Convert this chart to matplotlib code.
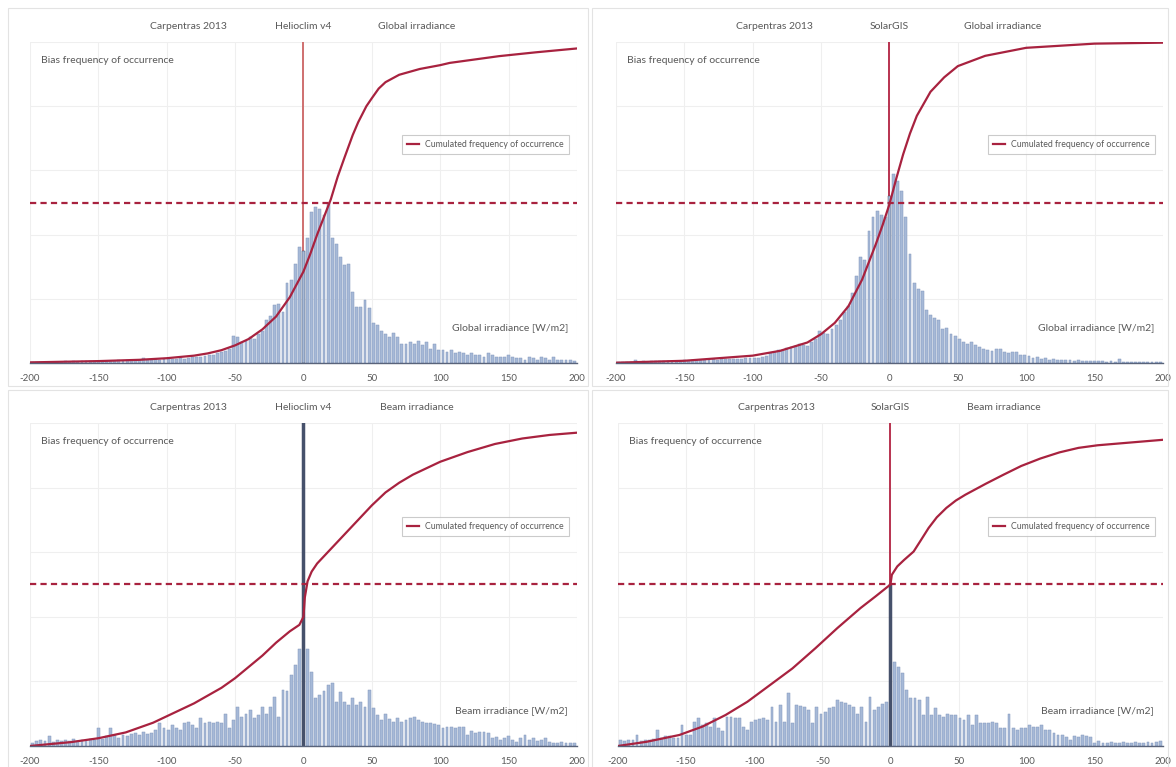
import numpy as np
import matplotlib
matplotlib.use("Agg")
import matplotlib.pyplot as plt
from matplotlib.patches import Rectangle

plt.rcParams['font.family'] = ['Lato', 'DejaVu Sans']

# bias bins (W/m2), 3 W/m2 wide
bin_centers = list(range(-198, 199, 3))
x_ticks = [-200, -150, -100, -50, 0, 50, 100, 150, 200]

# bar heights, in % of the plot height
hc_global = [0.3, 0.3, 0.4, 0.3, 0.4, 0.3, 0.4, 0.4, 0.5, 0.4, 0.5, 0.4, 0.5, 0.6, 0.5, 0.6, 0.6, 0.5,
             0.7, 0.6, 0.7, 0.8, 0.7, 0.8, 0.9, 0.8, 1.0,
             1.6, 0.9, 1.0, 1.1, 1.0, 1.2, 1.3, 1.2, 1.4, 1.5, 1.4, 1.6, 1.8, 1.9, 2.0, 2.2, 2.4, 2.6,
             3.0, 3.3, 3.8, 4.3,
             8.5, 8.0, 6.5, 7.0, 8.0, 7.5, 9.0, 10.0, 13.5, 14.5, 18.0, 18.5, 16.0, 25.0, 26.0, 31.0,
             36.0, 35.0, 39.0, 47.0, 48.5, 48.0, 46.0, 50.0, 39.0, 37.0, 33.0, 30.5, 31.0, 22.0, 17.5,
             17.5, 19.5, 17.0, 12.5, 12.0, 10.0, 9.0, 8.0, 9.5, 8.0, 6.0, 6.0, 6.5, 6.0, 7.0, 5.5, 6.5,
             4.5, 6.0, 4.0,
             4.0, 3.5, 4.0, 3.0, 3.5, 3.0, 2.5, 3.0, 2.5, 2.5, 2.0, 3.0, 2.5, 2.0, 2.0, 2.0, 2.5, 2.0,
             1.5, 1.5, 1.0, 2.0, 1.5, 1.0, 2.0, 1.5, 1.0, 2.0, 1.0, 1.0, 1.0, 0.8, 0.5]

sg_global = [0.3, 0.4, 0.3, 0.4, 0.8, 0.4, 0.5, 0.4, 0.5, 0.6, 0.5, 0.6, 0.5, 0.7, 0.6, 0.7, 0.9, 0.7,
             0.8, 1.0, 0.8, 0.9, 1.0, 1.3, 1.0, 1.1, 1.2, 1.1, 1.3, 1.4, 1.3, 1.5, 1.6,
             1.7, 1.5, 2.0, 2.3, 3.0, 3.3, 4.0, 4.2, 4.8, 5.0, 5.3, 5.8, 5.5, 5.3, 6.5, 7.4, 10.0, 9.5,
             9.0, 10.5, 12.0, 13.5, 16.0, 17.7, 21.8, 27.0, 33.0, 32.0, 41.0, 45.4, 47.4, 46.0, 45.4,
             52.0, 59.0, 56.7, 53.6, 45.4, 34.0, 25.0, 23.0, 22.5, 16.6, 15.0, 14.0, 13.5, 10.5, 11.0,
             9.0, 8.4, 7.4, 6.5, 5.9, 6.4, 5.5, 5.0, 4.3, 4.0, 3.8, 4.3, 4.3, 3.3, 3.0, 3.5, 3.3, 2.5, 2.5,
             2.3, 1.5, 1.8, 1.2, 1.5, 1.0, 1.2, 0.9, 1.0, 0.8, 0.9, 0.7, 0.8, 0.6, 0.7, 0.6, 0.5, 0.6,
             0.5, 0.4, 0.5, 0.4, 1.4, 0.4, 0.3, 0.4, 0.3, 0.4, 0.3, 0.3, 0.4, 0.3, 0.3]

hc_beam = [0.8, 1.5, 1.8, 1.5, 3.0, 1.2, 1.8, 1.5, 2.0, 1.6, 2.2, 1.5, 2.0, 1.8, 2.2, 2.0, 5.5,
           2.2, 3.0, 5.5, 3.5, 2.4, 3.5, 3.0, 3.8, 4.0, 3.5,
           4.4, 3.8, 4.0, 5.0, 7.0, 5.5, 5.0, 6.5, 5.5, 4.8,
           7.0, 7.5, 6.5, 5.5, 8.6, 7.0, 7.5, 7.0, 7.5, 7.0,
           10.0, 5.5, 8.0, 12.2, 9.0, 10.0, 11.0, 8.6, 9.5, 12.2,
           10.0, 12.2, 15.3, 9.0, 17.4, 17.0, 22.0, 25.0, 30.0,
           130.0,
           30.0, 23.0, 14.8, 15.8, 17.0, 19.0, 19.4, 13.7, 16.8, 13.7,
           12.7, 14.8, 12.7, 13.5, 12.0, 17.4, 11.7, 9.6, 8.0, 10.0,
           8.5, 7.5, 8.6, 7.5, 8.0, 8.6, 9.0, 8.0, 7.5, 7.0,
           7.0, 6.8, 6.5, 5.5, 6.0, 5.8, 5.5, 6.0, 6.0, 3.4,
           4.5, 4.0, 4.4, 4.2, 4.0, 2.4, 2.8, 1.9, 2.5, 3.0,
           2.0, 1.3, 2.5, 3.4, 2.0, 2.4, 1.5, 1.9, 2.5, 1.2,
           0.8, 1.0, 1.2, 0.8, 1.0, 0.8]

sg_beam = [1.9, 1.5, 2.0, 1.8, 3.4, 1.5, 1.8, 2.0, 2.2, 5.0,
           2.5, 3.0, 3.2, 2.4, 2.5, 6.5, 3.5, 3.5, 7.5, 8.6,
           6.5, 7.0, 6.0, 8.6, 5.5, 4.5, 9.0, 9.0, 8.6, 8.6,
           6.0, 5.0, 7.5, 8.0, 8.2, 8.6, 8.0, 12.2, 7.5, 12.7,
           7.5, 16.3, 7.0, 12.7, 12.5, 12.2, 11.2, 7.0, 12.2, 10.0,
           10.5, 11.7, 12.0, 14.3, 13.5, 13.2, 12.7, 12.2, 10.0, 12.2,
           7.5, 15.3, 11.0, 12.0, 13.0, 13.7,
           50.0,
           26.0, 24.6, 22.5, 17.4, 15.0, 14.8, 14.3, 9.6, 15.3, 9.6,
           11.7, 9.6, 9.0, 10.0, 9.6, 9.6, 8.6, 8.0, 9.6, 6.5,
           9.6, 7.0, 7.0, 7.0, 7.5, 7.0, 5.5, 5.5, 10.0, 5.5,
           5.0, 5.5, 5.5, 6.5, 6.0, 5.8, 6.5, 5.0, 5.0, 4.0,
           3.5, 3.5, 2.8, 2.0, 3.0, 2.8, 3.4, 3.0, 2.8, 0.8,
           1.5, 0.8, 1.0, 1.3, 0.8, 1.0, 1.2, 0.8, 1.0, 1.3,
           0.8, 1.0, 1.3, 1.0, 1.2, 1.5]

# cumulated frequency of occurrence (%)
hc_global_cum_x = [-200, -150, -120, -100, -80, -70, -60, -50, -40, -30, -20, -10, 0, 5, 10, 15, 20, 25,
                   30, 36, 40, 46, 50, 55, 60, 70, 85, 100, 107, 143, 170, 200]
hc_global_cum_y = [0.2, 0.6, 1.0, 1.5, 2.3, 3.0, 4.0, 5.5, 7.5, 10.5, 14.5, 20.5, 28.5, 34, 40, 45.5, 51,
                   58, 64, 71, 75, 80, 82.5, 85.5, 87.5, 89.8, 91.6, 92.8, 93.5, 95.6, 96.8, 98]
sg_global_cum_x = [-200, -150, -100, -80, -60, -50, -40, -30, -20, -10, -5, 0, 5, 10, 15, 20, 30, 40,
                   50, 70, 100, 150, 200]
sg_global_cum_y = [0.1, 0.7, 2.3, 3.8, 6.4, 9, 12.5, 17.7, 26, 37, 43, 49.5, 57.5, 65, 71.5, 77, 84.5,
                   89, 92.5, 95.7, 98.2, 99.5, 99.8]
hc_beam_cum_x = [-200, -190, -170, -150, -130, -110, -100, -80, -60, -50, -40, -30, -20, -10, -3, 0, 1,
                 3, 6, 10, 20, 30, 40, 50, 60, 70, 80, 100, 120, 140, 160, 180, 200]
hc_beam_cum_y = [0, 0.4, 1.2, 2.4, 4.2, 7.2, 9.2, 13.2, 18, 21, 24.5, 28, 32, 35.5, 37.5, 40, 46, 51,
                 54, 56.5, 61, 65.5, 70, 74.5, 78.5, 81.5, 84, 88, 91, 93.5, 95.2, 96.3, 97]
sg_beam_cum_x = [-200, -179, -155, -138, -121, -105, -88, -72, -55, -39, -22, -11, 0, 1, 5, 10, 17, 22,
                 28, 34, 41, 48, 55, 70, 83, 96, 110, 124, 138, 152, 166, 183, 200]
sg_beam_cum_y = [0, 1.3, 3.4, 6, 9.6, 13.7, 19, 24, 30.3, 36.5, 42.7, 46.3, 50, 53, 55.6, 57.6, 60.2, 63.5,
                 67.5, 70.8, 73.7, 76, 77.8, 81.2, 84, 86.7, 89, 90.9, 92.3, 93.1, 93.6, 94.2, 94.8]

site = "Carpentras 2013"

panels = [
    # rect, model, variable, bars, cum x, cum y, zero line colour, zero bar colour
    ([0.0255, 0.5267, 0.4651, 0.4185], "Helioclim v4", "Global irradiance", hc_global,
     hc_global_cum_x, hc_global_cum_y, '#cf6f6f', '#a6b9d7'),
    ([0.5238, 0.5267, 0.4651, 0.4185], "SolarGIS", "Global irradiance", sg_global,
     sg_global_cum_x, sg_global_cum_y, '#b8324f', '#a6b9d7'),
    ([0.0255, 0.0274, 0.4651, 0.4211], "Helioclim v4", "Beam irradiance", hc_beam,
     hc_beam_cum_x, hc_beam_cum_y, '#b8324f', '#46516b'),
    ([0.5255, 0.0274, 0.4634, 0.4211], "SolarGIS", "Beam irradiance", sg_beam,
     sg_beam_cum_x, sg_beam_cum_y, '#b8324f', '#46516b'),
]

red = '#a8223f'
grey_txt = '#595959'

fig = plt.figure(figsize=(11.76, 7.67), dpi=100)

# chart area borders
for (x0, y0, w, h) in [(8, 8, 580, 378), (592, 8, 576, 378), (8, 390, 580, 380), (592, 390, 576, 380)]:
    fig.patches.append(Rectangle((x0 / 1176, 1 - (y0 + h) / 767), w / 1176, h / 767,
                                 transform=fig.transFigure, fill=False, ec='#e3e3e3', lw=0.8))

for rect, model, var, bars, cx, cy, zline, zbar in panels:
    assert len(bars) == len(bin_centers)
    ax = fig.add_axes(rect)
    ax.set_xlim(-200, 200)
    ax.set_ylim(0, 100)

    for v in x_ticks:
        ax.axvline(v, color='#efefef', lw=0.8, zorder=0)
    for v in [20, 40, 60, 80, 100]:
        ax.axhline(v, color='#efefef', lw=0.8, zorder=0)

    ax.axvline(0, color=zline, lw=1.4, zorder=1)

    colors = [zbar if c == 0 else '#a6b9d7' for c in bin_centers]
    edges = ['#46516b' if c == 0 else '#8198bd' for c in bin_centers]
    ax.bar(bin_centers, bars, width=2.1, color=colors, edgecolor=edges, linewidth=0.35, zorder=2)

    ax.axhline(50, color=red, lw=1.6, dashes=(2.8, 1.9), zorder=3)
    ax.plot(cx, cy, color=red, lw=1.6, zorder=4, label="Cumulated frequency of occurrence")

    ax.set_xticks(x_ticks)
    ax.set_xticklabels([str(t) for t in x_ticks])
    ax.set_yticks([])
    ax.tick_params(axis='x', length=0, pad=8, labelsize=7, labelcolor=grey_txt)
    for s in ['top', 'left', 'right']:
        ax.spines[s].set_visible(False)
    ax.spines['bottom'].set_color('#59637a')
    ax.spines['bottom'].set_linewidth(1.0)
    ax.spines['bottom'].set_zorder(5)

    tr = ax.get_xaxis_transform()
    ax.text(-84, 1.047, site, transform=tr, ha='center', va='center', fontsize=7.5, color=grey_txt)
    ax.text(0, 1.047, model, transform=tr, ha='center', va='center', fontsize=7.5, color=grey_txt)
    ax.text(83, 1.047, var, transform=tr, ha='center', va='center', fontsize=7.5, color=grey_txt)

    ax.text(0.02, 0.944, "Bias frequency of occurrence", transform=ax.transAxes, ha='left',
            va='center', fontsize=7.5, color=grey_txt)
    ax.text(0.984, 0.11, var + " [W/m2]", transform=ax.transAxes, ha='right', va='center',
            fontsize=7.5, color=grey_txt)

    leg = ax.legend(loc='center right', bbox_to_anchor=(0.993, 0.68), fontsize=6.3, frameon=True,
                    fancybox=False, handlelength=1.3, borderpad=0.6, handletextpad=0.7)
    leg.get_frame().set_edgecolor('#bfbfbf')
    leg.get_frame().set_linewidth(0.8)
    for t in leg.get_texts():
        t.set_color(grey_txt)

fig.savefig("out.png", dpi=100)
